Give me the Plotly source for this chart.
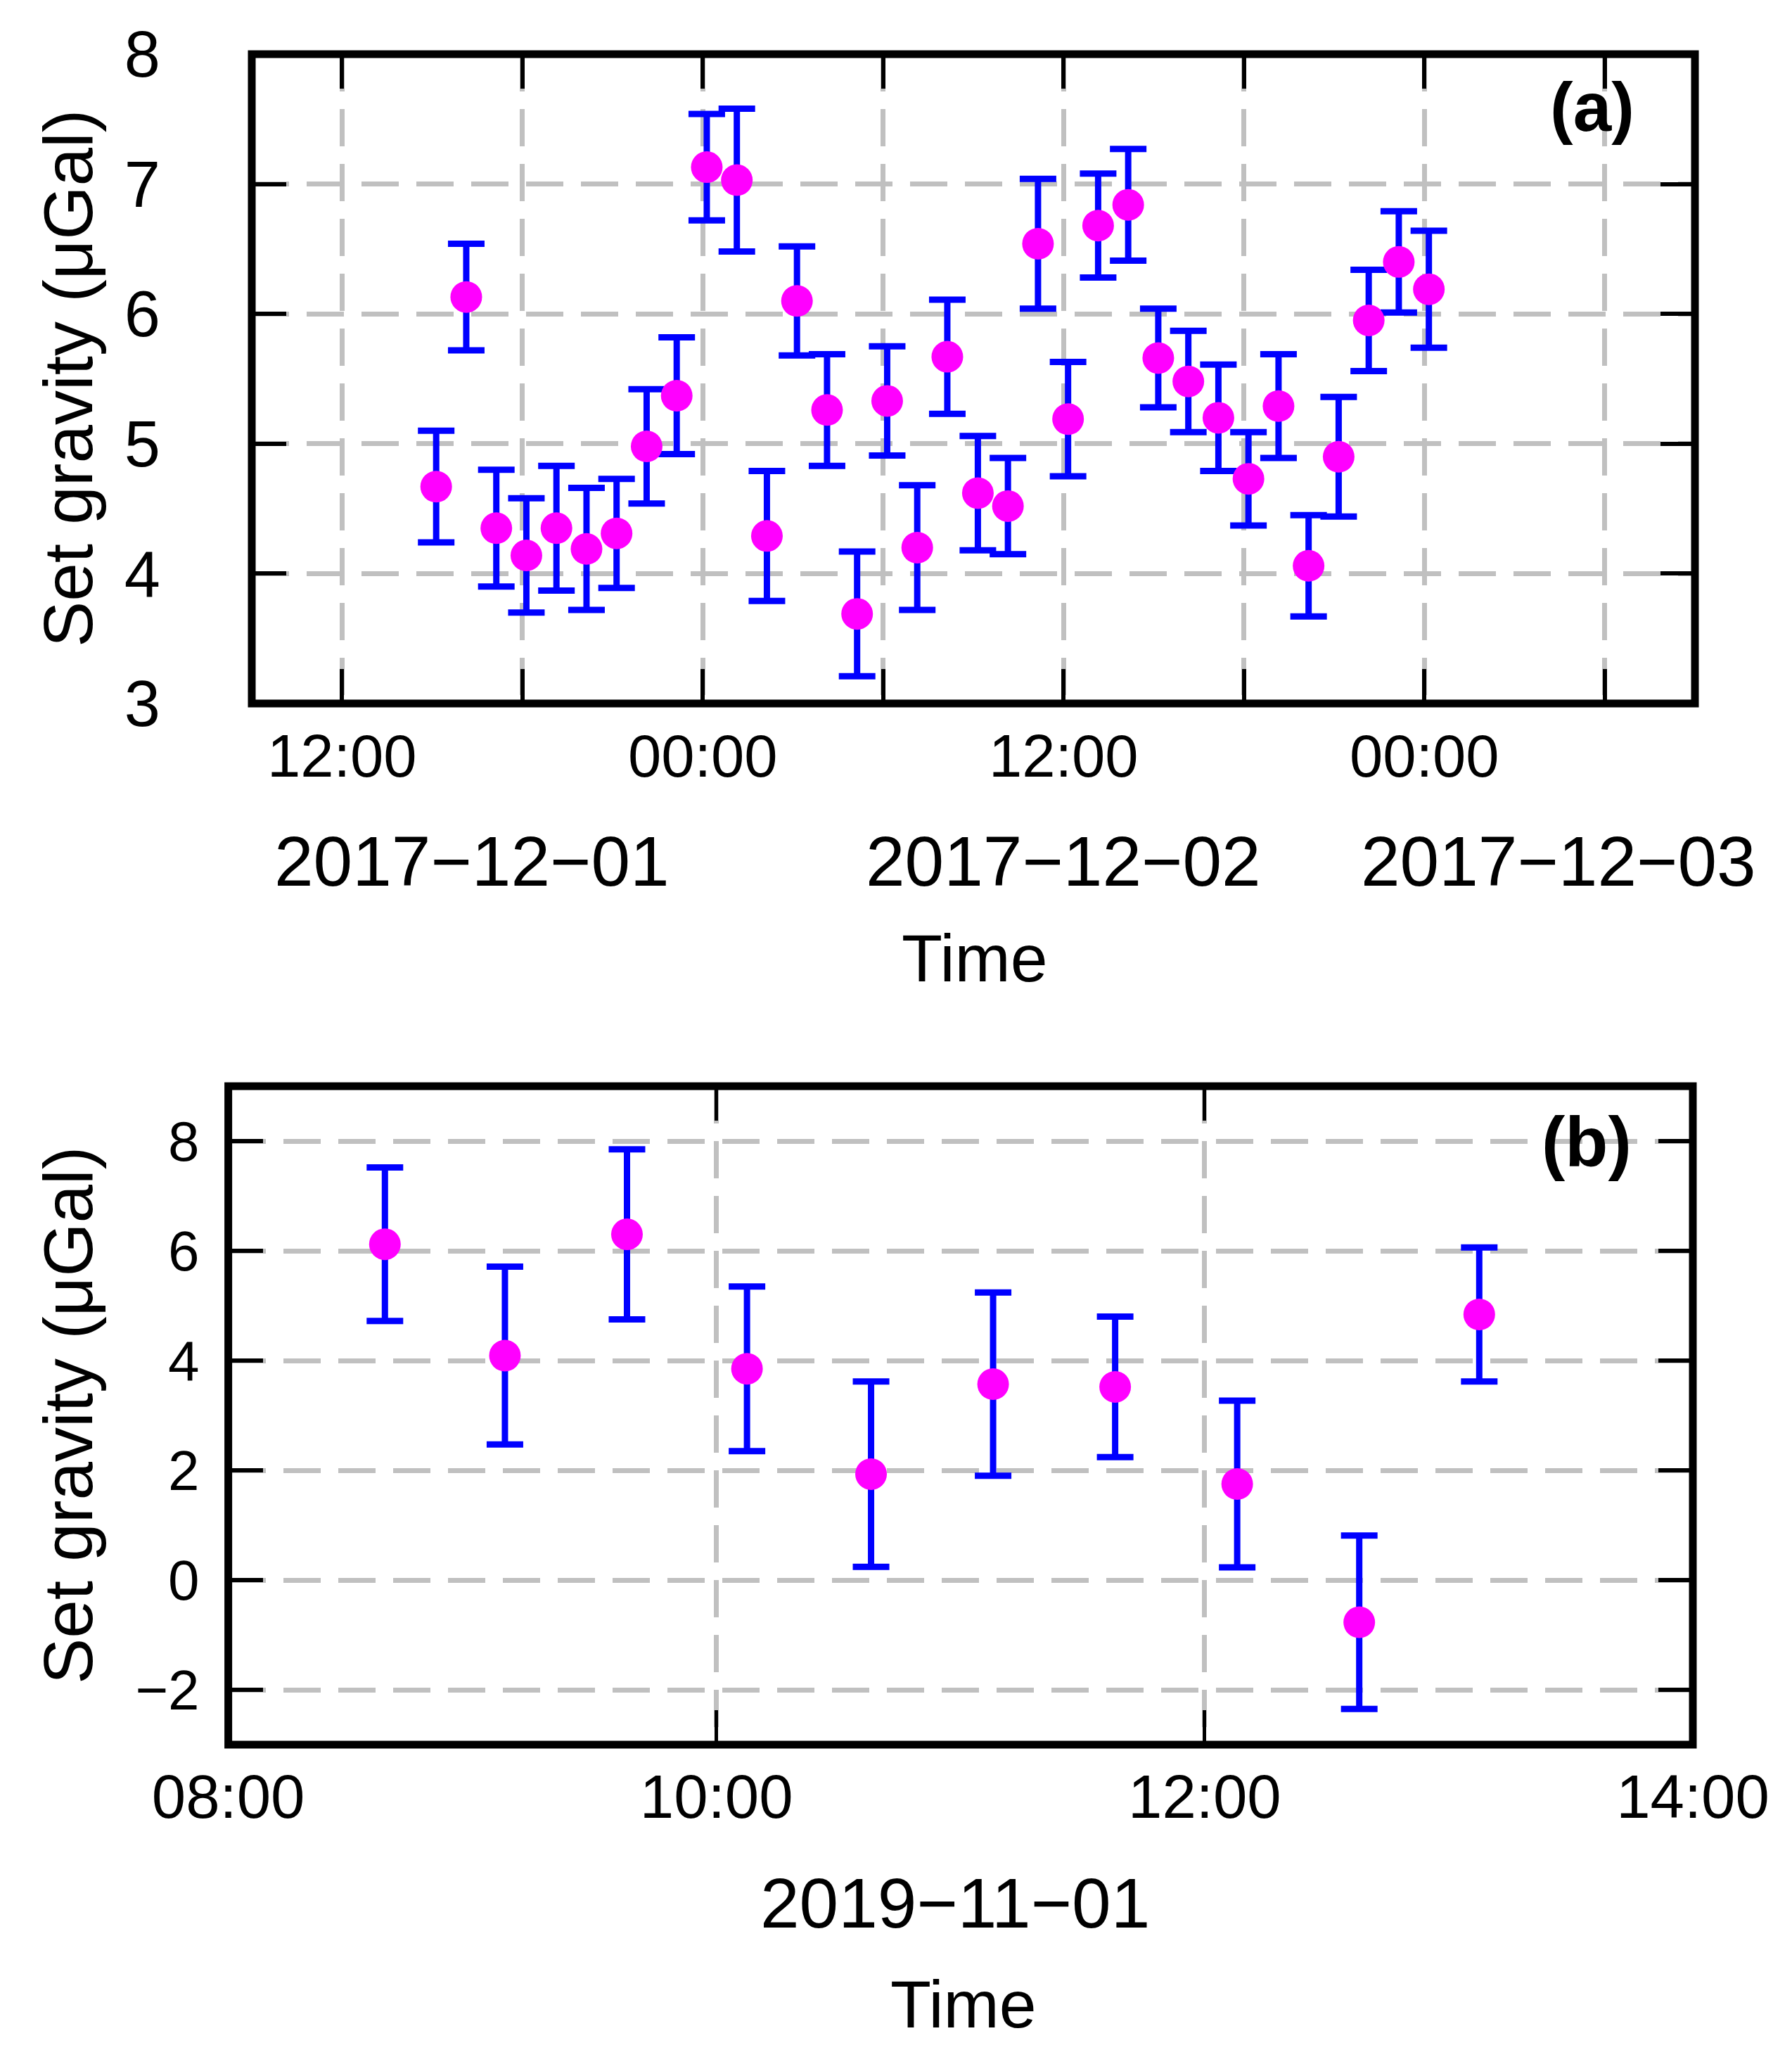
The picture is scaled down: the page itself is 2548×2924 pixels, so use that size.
import plotly.graph_objects as go

# ---------------- data: panel (a) ----------------
times_a = [
    "2017-12-01 15:08", "2017-12-01 16:08", "2017-12-01 17:08", "2017-12-01 18:08",
    "2017-12-01 19:08", "2017-12-01 20:08", "2017-12-01 21:08", "2017-12-01 22:08",
    "2017-12-01 23:08", "2017-12-02 00:08", "2017-12-02 01:08", "2017-12-02 02:08",
    "2017-12-02 03:08", "2017-12-02 04:08", "2017-12-02 05:08", "2017-12-02 06:08",
    "2017-12-02 07:08", "2017-12-02 08:08", "2017-12-02 09:09", "2017-12-02 10:09",
    "2017-12-02 11:09", "2017-12-02 12:09", "2017-12-02 13:09", "2017-12-02 14:09",
    "2017-12-02 15:09", "2017-12-02 16:09", "2017-12-02 17:09", "2017-12-02 18:09",
    "2017-12-02 19:09", "2017-12-02 20:09", "2017-12-02 21:09", "2017-12-02 22:09",
    "2017-12-02 23:09", "2017-12-03 00:09",
]
gravity_a = [4.67, 6.13, 4.35, 4.14, 4.35, 4.19, 4.31, 4.98, 5.37, 7.13, 7.03, 4.29,
             6.10, 5.26, 3.69, 5.33, 4.20, 5.67, 4.62, 4.52, 6.54, 5.19, 6.68, 6.84,
             5.66, 5.48, 5.20, 4.73, 5.29, 4.06, 4.90, 5.95, 6.40, 6.19]
error_a = [0.43, 0.41, 0.45, 0.44, 0.48, 0.47, 0.42, 0.44, 0.45, 0.41, 0.55, 0.50,
           0.42, 0.43, 0.48, 0.42, 0.48, 0.44, 0.44, 0.37, 0.50, 0.44, 0.40, 0.43,
           0.38, 0.39, 0.41, 0.36, 0.40, 0.39, 0.46, 0.39, 0.39, 0.45]
tickvals_a = ["2017-12-01 12:00", "2017-12-01 18:00", "2017-12-02 00:00", "2017-12-02 06:00",
              "2017-12-02 12:00", "2017-12-02 18:00", "2017-12-03 00:00", "2017-12-03 06:00"]
ticktext_a = ["12:00", "", "00:00", "", "12:00", "", "00:00", ""]
date_labels_a = ["2017\u221212\u221201", "2017\u221212\u221202", "2017\u221212\u221203"]
xrange_a = ["2017-12-01 09:00", "2017-12-03 09:00"]
yticks_a = [3, 4, 5, 6, 7, 8]

# ---------------- data: panel (b) ----------------
times_b = ["2019-11-01 08:38:30", "2019-11-01 09:08", "2019-11-01 09:38", "2019-11-01 10:07:30",
           "2019-11-01 10:38", "2019-11-01 11:08", "2019-11-01 11:38", "2019-11-01 12:08",
           "2019-11-01 12:38", "2019-11-01 13:07:30"]
gravity_b = [6.12, 4.09, 6.30, 3.85, 1.93, 3.57, 3.52, 1.75, -0.77, 4.84]
error_b = [1.40, 1.62, 1.55, 1.50, 1.69, 1.67, 1.28, 1.52, 1.58, 1.22]
tickvals_b = ["2019-11-01 08:00", "2019-11-01 10:00", "2019-11-01 12:00", "2019-11-01 14:00"]
ticktext_b = ["08:00", "10:00", "12:00", "14:00"]
date_label_b = "2019\u221211\u221201"
xrange_b = ["2019-11-01 08:00", "2019-11-01 14:00"]
yticks_b = [-2, 0, 2, 4, 6, 8]

ytitle = "Set gravity (\u03bcGal)"
xtitle = "Time"

W, H = 2548, 2924
FONT = "Liberation Sans, Arial, Helvetica, sans-serif"
MAGENTA = "#ff00ff"
BLUE = "#0000ff"
GRID = "#c0c0c0"


def px(v):
    return v / W


def py(v):
    return 1 - v / H


fig = go.Figure()
fig.add_trace(go.Scatter(
    x=times_a, y=gravity_a, mode="markers", xaxis="x", yaxis="y",
    marker=dict(color=MAGENTA, size=45, line=dict(width=0)),
    error_y=dict(type="data", array=error_a, color=BLUE, thickness=9, width=26),
    showlegend=False,
))
fig.add_trace(go.Scatter(
    x=times_b, y=gravity_b, mode="markers", xaxis="x2", yaxis="y2",
    marker=dict(color=MAGENTA, size=45, line=dict(width=0)),
    error_y=dict(type="data", array=error_b, color=BLUE, thickness=9, width=26),
    showlegend=False,
))

common = dict(showgrid=True, gridcolor=GRID, gridwidth=7, griddash="53px,25px",
              zeroline=False, showline=False, ticks="inside", ticklen=49,
              tickcolor="black", mirror="ticks", automargin=False,
              tickfont=dict(family=FONT, color="black"))

fig.update_layout(
    width=W, height=H, template="none",
    margin=dict(l=0, r=0, t=0, b=0),
    paper_bgcolor="white", plot_bgcolor="white",
    font=dict(family=FONT, color="black"),
    xaxis=dict(common, type="date", domain=[px(358), px(2410)], anchor="y",
               range=xrange_a, tickmode="array", tickvals=tickvals_a, ticktext=ticktext_a,
               tickwidth=6, ticklabelstandoff=18,
               tickfont=dict(family=FONT, size=85, color="black")),
    yaxis=dict(common, domain=[py(1000), py(77)], anchor="x", range=[3, 8],
               tickmode="array", tickvals=yticks_a, tickwidth=6, ticklabelstandoff=129,
               tickfont=dict(family=FONT, size=92, color="black")),
    xaxis2=dict(common, type="date", domain=[px(324.6), px(2407)], anchor="y2",
                range=xrange_b, tickmode="array", tickvals=tickvals_b, ticktext=ticktext_b,
                tickwidth=4.5, ticklabelstandoff=16,
                tickfont=dict(family=FONT, size=87, color="black")),
    yaxis2=dict(common, domain=[py(2480), py(1544)], anchor="x2", range=[-3, 9],
                tickmode="array", tickvals=yticks_b, tickwidth=6, ticklabelstandoff=40,
                tickfont=dict(family=FONT, size=80, color="black")),
)

# frames (border centred on the plot edges)
for xr, yr in (("x domain", "y domain"), ("x2 domain", "y2 domain")):
    fig.add_shape(type="rect", xref=xr, yref=yr, x0=0, x1=1, y0=0, y1=1,
                  line=dict(color="black", width=11), layer="above")

ann = []


def label(text, x, y, size, bold=False, angle=0):
    ann.append(dict(text=("<b>%s</b>" % text) if bold else text, x=px(x), y=py(y),
                    xref="paper", yref="paper", showarrow=False, xanchor="center",
                    yanchor="middle", textangle=angle,
                    font=dict(family=FONT, size=size, color="black")))


# panel (a)
label(ytitle, 97, 538, 98, angle=-90)
label(date_labels_a[0], 671, 1224, 100)
label(date_labels_a[1], 1512, 1224, 100)
label(date_labels_a[2], 2216, 1224, 100)
label(xtitle, 1386, 1362, 95)
label("(a)", 2264, 152, 98, bold=True)
# panel (b)
label(ytitle, 97, 2012, 98, angle=-90)
label(date_label_b, 1358, 2705, 100)
label(xtitle, 1370, 2849, 95)
label("(b)", 2256, 1623, 100, bold=True)

fig.update_layout(annotations=ann)

fig.write_html("out.html", config={"displayModeBar": False},
               post_script="document.body.style.margin='0';")
